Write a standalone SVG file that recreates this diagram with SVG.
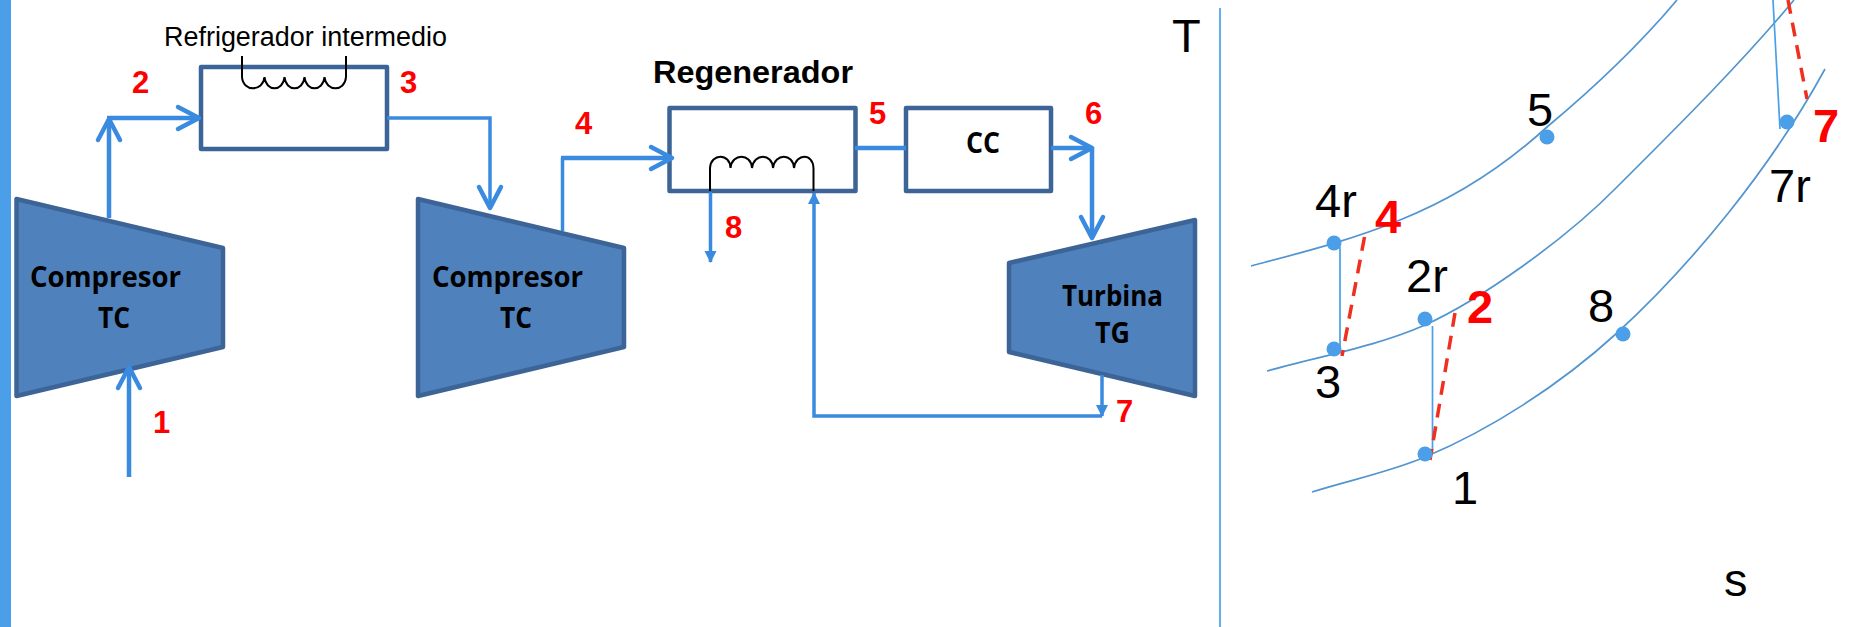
<svg xmlns="http://www.w3.org/2000/svg" width="1851" height="627" viewBox="0 0 1851 627">
<defs>
<marker id="open" markerUnits="userSpaceOnUse" markerWidth="30" markerHeight="30" refX="25" refY="15" orient="auto" viewBox="0 0 30 30"><path d="M4 4 L25 15 L4 26" fill="none" stroke="#3a8adf" stroke-width="4.5" stroke-linecap="round" stroke-linejoin="round"/></marker>
<marker id="solid" markerUnits="userSpaceOnUse" markerWidth="14" markerHeight="14" refX="11" refY="7" orient="auto" viewBox="0 0 14 14"><path d="M0 1 L12 7 L0 13Z" fill="#3a8adf"/></marker>
</defs>
<style>
.bar{fill:#4a9fe8}
.mach{fill:#4f81bd;stroke:#3c6496;stroke-width:4.5;stroke-linejoin:round}
.box{fill:#fff;stroke:#3c6496;stroke-width:4.5;stroke-linejoin:round}
.pipe{fill:none;stroke:#3a8adf;stroke-width:4.5}
.thin{stroke-width:3.5}
.coil{fill:none;stroke:#000;stroke-width:2}
.curve{fill:none;stroke:#5295d0;stroke-width:1.7}
.iso{fill:none;stroke:#4a9fe8;stroke-width:1.7}
.dash{fill:none;stroke:#f0301e;stroke-width:3.5;stroke-dasharray:14 9}
.dot{fill:#4a9fe8}
.ml{font:bold 28px "Open Sans","Liberation Sans",sans-serif;fill:#000}
.red{font:bold 31px "Liberation Sans",sans-serif;fill:#f00}
.redb{font:bold 47px "Liberation Sans",sans-serif;fill:#f00}
.blk{font:47px "Liberation Sans",sans-serif;fill:#000}
</style>
<rect class="bar" x="0" y="0" width="11" height="627"/>
<g id="compresor1"><path class="mach" d="M16.500 199L223 248V347L16.500 396Z"/><text class="ml" x="30" y="287" textLength="151" lengthAdjust="spacingAndGlyphs">Compresor</text><text class="ml" x="98" y="328" textLength="32" lengthAdjust="spacingAndGlyphs">TC</text></g>
<g id="compresor2"><path class="mach" d="M418 199L624 248V347L418 396Z"/><text class="ml" x="432" y="287" textLength="151" lengthAdjust="spacingAndGlyphs">Compresor</text><text class="ml" x="500" y="328" textLength="32" lengthAdjust="spacingAndGlyphs">TC</text></g>
<g id="turbina"><path class="mach" d="M1009 263L1195 220V396L1009 352Z"/><text class="ml" x="1062" y="306" textLength="101" lengthAdjust="spacingAndGlyphs">Turbina</text><text class="ml" x="1095" y="343" textLength="35" lengthAdjust="spacingAndGlyphs">TG</text></g>
<g id="refrigerador"><rect class="box" x="201" y="67" width="186" height="82"/><path class="coil" d="M242 56V77C243 92 263 92 264.500 77C266 92 283 92 284.500 77C286 92 303 92 304.500 77C306 92 323 92 324.500 77C326 92 345 92 346 77V56"/><text x="164" y="46" style="font:27px 'Liberation Sans',sans-serif" textLength="283" lengthAdjust="spacingAndGlyphs">Refrigerador intermedio</text></g>
<g id="regenerador"><rect class="box" x="669.500" y="108" width="186" height="83"/><path class="coil" d="M710 191V168C711 153 730 153 730.500 168C732 153 751 153 752 168C754 153 772 153 773 168C775 153 793 153 794 168C796 153 813 153 813.500 168V191"/><text x="653" y="83" style="font:bold 32px 'Liberation Sans',sans-serif" textLength="200" lengthAdjust="spacingAndGlyphs">Regenerador</text></g>
<g id="cc"><rect class="box" x="906" y="108" width="145" height="83"/><text class="ml" x="966" y="153" textLength="34" lengthAdjust="spacingAndGlyphs">CC</text></g>
<g id="connectors">
<path class="pipe" d="M109 218V119" marker-end="url(#open)"/>
<path class="pipe" d="M107 118H199" marker-end="url(#open)"/>
<path class="pipe" d="M129 477V367" marker-end="url(#open)"/>
<path class="pipe thin" d="M387 118H490V208" marker-end="url(#open)"/>
<path class="pipe thin" d="M562.500 231V158"/>
<path class="pipe" d="M561 158H672" marker-end="url(#open)"/>
<path class="pipe" d="M855 148H906"/>
<path class="pipe" d="M1051 148H1092" marker-end="url(#open)"/>
<path class="pipe" d="M1092 147V238" marker-end="url(#open)"/>
<path class="pipe thin" d="M710.500 192V262" marker-end="url(#solid)"/>
<path class="pipe thin" d="M1102 416H814V193" marker-end="url(#solid)"/>
<path class="pipe thin" d="M1102 375V416" marker-end="url(#solid)"/>
</g>
<g id="labels-red">
<text class="red" x="132" y="93">2</text><text class="red" x="400" y="93">3</text><text class="red" x="575" y="134">4</text><text class="red" x="869" y="124">5</text><text class="red" x="1085" y="124">6</text><text class="red" x="1116" y="422">7</text><text class="red" x="725" y="238">8</text><text class="red" x="153" y="433">1</text>
</g>
<g id="ts">
<path class="iso" d="M1220 8V627"/>
<path class="curve" d="M1251 266C1300 253 1352 240 1400 220C1450 200 1500 170 1547 127C1595 87 1640 44 1677 0"/>
<path class="curve" d="M1267 371C1320 356 1375 347 1425 325C1480 300 1565 240 1617 187C1670 134 1740 65 1794 0"/>
<path class="curve" d="M1312 492C1350 480 1390 472 1425 457C1490 430 1560 385 1617 333C1690 266 1770 170 1825 69"/>
<path class="iso" d="M1340 247V347M1432.500 326V450M1773 0L1780 129"/>
<path class="dash" d="M1364.500 237L1342 356M1455 313L1430 460M1788 0L1807 99"/>
<circle class="dot" cx="1334" cy="243" r="7.500"/><circle class="dot" cx="1334" cy="349" r="7.500"/><circle class="dot" cx="1425" cy="319" r="7.500"/><circle class="dot" cx="1425" cy="454" r="7.500"/><circle class="dot" cx="1547" cy="137" r="7.500"/><circle class="dot" cx="1623" cy="334" r="7.500"/><circle class="dot" cx="1787" cy="122" r="7.500"/>
<text class="blk" x="1315" y="217">4r</text><text class="blk" x="1406" y="292">2r</text><text class="blk" x="1527" y="126">5</text><text class="blk" x="1588" y="322">8</text><text class="blk" x="1769" y="202">7r</text><text class="blk" x="1315" y="398">3</text><text class="blk" x="1452" y="504">1</text><text class="redb" x="1375" y="233">4</text><text class="redb" x="1467" y="323">2</text><text class="redb" x="1813" y="142">7</text>
<text class="blk" x="1172" y="52">T</text><text class="blk" x="1724" y="596">s</text>
</g>
</svg>
